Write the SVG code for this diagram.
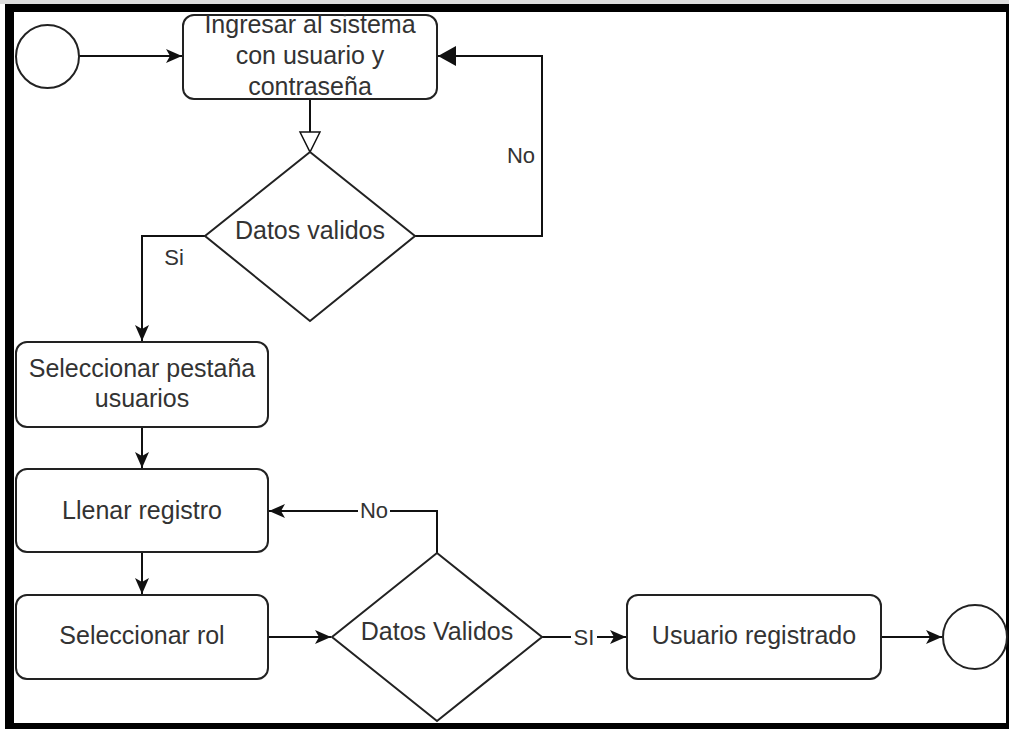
<svg xmlns="http://www.w3.org/2000/svg" width="1009" height="729" viewBox="0 0 1009 729">
<style>
.shape{fill:#fff;stroke:#222;stroke-width:2}
.edge{fill:none;stroke:#111;stroke-width:2}
.t{font-family:"Liberation Sans",Arial,sans-serif;font-size:25px;fill:#333;text-anchor:middle}
.lbl{font-family:"Liberation Sans",Arial,sans-serif;font-size:22px;fill:#333;text-anchor:middle}
</style>
<defs>
<marker id="classic" markerUnits="userSpaceOnUse" markerWidth="18" markerHeight="16" refX="16" refY="7" orient="auto">
<path d="M0,0 L16,7 L0,14 L4,7 Z" fill="#111"/>
</marker>
<marker id="block" markerUnits="userSpaceOnUse" markerWidth="20" markerHeight="22" refX="18" refY="10" orient="auto">
<path d="M0,0 L18,10 L0,20 Z" fill="#111"/>
</marker>
<marker id="open" markerUnits="userSpaceOnUse" markerWidth="24" markerHeight="24" refX="21" refY="11" orient="auto">
<path d="M1,1 L21,11 L1,21 Z" fill="#fff" stroke="#111" stroke-width="1.5"/>
</marker>
</defs>
<rect x="0" y="0" width="1009" height="729" fill="#fff"/>
<rect x="0" y="0" width="1009" height="4" fill="#ddd"/>
<g id="frame" fill="#000">
<rect x="5" y="4" width="1004" height="8"/>
<rect x="5" y="4" width="9" height="725"/>
<rect x="1006" y="4" width="3" height="725"/>
<rect x="5" y="723" width="1004" height="6"/>
</g>
<g id="connectors">
<path class="edge" d="M79,56 L182,56" marker-end="url(#classic)"/>
<path class="edge" d="M310,99 L310,152" marker-end="url(#open)"/>
<path class="edge" d="M415,236 L542,236 L542,56 L438,56" marker-end="url(#block)"/>
<path class="edge" d="M205,236 L142,236 L142,341" marker-end="url(#classic)"/>
<path class="edge" d="M142,427 L142,468" marker-end="url(#classic)"/>
<path class="edge" d="M142,552 L142,594" marker-end="url(#classic)"/>
<path class="edge" d="M437,553 L437,511 L269,511" marker-end="url(#classic)"/>
<path class="edge" d="M268,637 L331,637" marker-end="url(#classic)"/>
<path class="edge" d="M542,637 L626,637" marker-end="url(#classic)"/>
<path class="edge" d="M881,637 L942,637" marker-end="url(#classic)"/>
<text class="lbl" x="521" y="163">No</text>
<text class="lbl" x="174" y="265">Si</text>
<rect x="358" y="500" width="32" height="22" fill="#fff"/>
<text class="lbl" x="374" y="518">No</text>
<rect x="571" y="626" width="26" height="22" fill="#fff"/>
<text class="lbl" x="584" y="645">SI</text>
</g>
<g id="start"><circle class="shape" cx="47.5" cy="56.5" r="31.5"/></g>
<g id="ingresar">
<rect class="shape" x="183" y="15" width="254" height="84" rx="11"/>
<text class="t" x="310" y="33">Ingresar al sistema</text>
<text class="t" x="310" y="64">con usuario y</text>
<text class="t" x="310" y="95">contraseña</text>
</g>
<g id="datos1">
<polygon class="shape" points="310,152 415,236 310,321 205,236"/>
<text class="t" x="310" y="239">Datos validos</text>
</g>
<g id="pestana">
<rect class="shape" x="16" y="342" width="252" height="85" rx="11"/>
<text class="t" x="142" y="377">Seleccionar pestaña</text>
<text class="t" x="142" y="407">usuarios</text>
</g>
<g id="llenar">
<rect class="shape" x="16" y="469" width="252" height="83" rx="11"/>
<text class="t" x="142" y="519">Llenar registro</text>
</g>
<g id="rol">
<rect class="shape" x="16" y="595" width="252" height="84" rx="11"/>
<text class="t" x="142" y="644">Seleccionar rol</text>
</g>
<g id="datos2">
<polygon class="shape" points="437,553 542,637 437,721 332,637"/>
<text class="t" x="437" y="640">Datos Validos</text>
</g>
<g id="registrado">
<rect class="shape" x="627" y="595" width="254" height="84" rx="11"/>
<text class="t" x="754" y="644">Usuario registrado</text>
</g>
<g id="end"><circle class="shape" cx="975" cy="637" r="32"/></g>
</svg>
